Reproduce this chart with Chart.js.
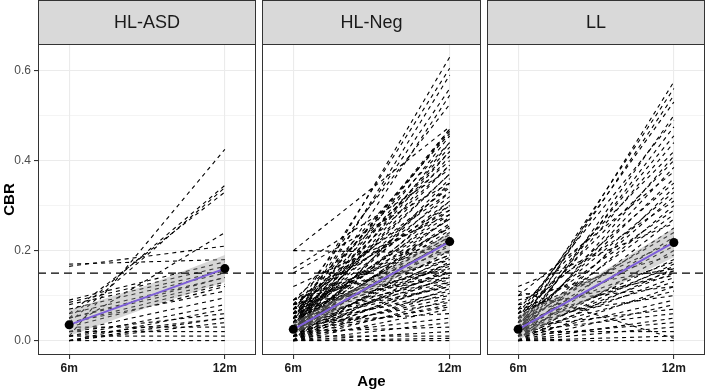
<!DOCTYPE html>
<html>
<head>
<meta charset="utf-8">
<script src="https://cdn.jsdelivr.net/npm/chart.js@4.4.1/dist/chart.umd.min.js"></script>
<style>
    body { margin: 0; background: #ffffff; }
    #wrap { position: relative; width: 705px; height: 391px; }
    #wrap canvas { position: absolute; top: 0; }
</style>
</head>
<body>
<div id="wrap">
    <canvas id="panel0" width="256" height="391" style="left:0px"></canvas>
    <canvas id="panel1" width="219" height="391" style="left:262px"></canvas>
    <canvas id="panel2" width="218" height="391" style="left:487px"></canvas>
</div>
<script>
const groups = ["HL-ASD", "HL-Neg", "LL"];
const ages = [6, 12];
const ageLabels = ["6m", "12m"];
const bandAges = [6, 9, 12];
const yTickValues = [0, 0.2, 0.4, 0.6];
const yTickLabels = ["0.0", "0.2", "0.4", "0.6"];
const yMinorValues = [0.1, 0.3, 0.5];
const cutoff = 0.15;

// individual trajectories, CBR at 6m and 12m
const hlAsd6m = [0.01, 0.05, 0.04, 0.06, 0.03, 0.165, 0.17, 0.09, 0.085, 0.08, 0.07, 0.06, 0.05, 0.04,
    0.03, 0.02, 0.01, 0.0, 0.02, 0.01, 0.0, 0.03, 0.02, 0.01, 0.0, 0.04, 0.0, 0.05];
const hlAsd12m = [0.425, 0.345, 0.34, 0.33, 0.24, 0.21, 0.18, 0.175, 0.165, 0.155, 0.15, 0.14, 0.13, 0.125,
    0.12, 0.095, 0.08, 0.07, 0.06, 0.05, 0.04, 0.03, 0.02, 0.01, 0.0, 0.11, 0.05, 0.14];

const hlNeg6m = [0.04, 0.06, 0.03, 0.05, 0.02, 0.08, 0.2, 0.03, 0.05, 0.07, 0.01, 0.04, 0.06, 0.02, 0.09,
    0.03, 0.16, 0.05, 0.0, 0.15, 0.04, 0.07, 0.02, 0.06, 0.01, 0.08, 0.03, 0.05, 0.0, 0.04,
    0.02, 0.06, 0.03, 0.01, 0.07, 0.05, 0.02, 0.04, 0.0, 0.03, 0.2, 0.01, 0.06, 0.02, 0.04,
    0.0, 0.03, 0.05, 0.01, 0.02, 0.04, 0.0, 0.03, 0.06, 0.01, 0.02, 0.05, 0.0, 0.03, 0.01,
    0.04, 0.02, 0.0, 0.03, 0.01, 0.02, 0.0, 0.04, 0.01, 0.0, 0.02, 0.0, 0.01, 0.0, 0.0,
    0.12, 0.09, 0.08, 0.05, 0.02, 0.07, 0.03, 0.06, 0.04, 0.01, 0.08, 0.05, 0.03, 0.09,
    0.06, 0.02, 0.07, 0.04, 0.08, 0.05, 0.09, 0.06, 0.07, 0.08, 0.05, 0.04];
const hlNeg12m = [0.63, 0.605, 0.59, 0.56, 0.545, 0.525, 0.475, 0.47, 0.465, 0.46, 0.44, 0.43, 0.42, 0.41, 0.4,
    0.39, 0.38, 0.37, 0.36, 0.35, 0.345, 0.34, 0.33, 0.32, 0.31, 0.3, 0.29, 0.28, 0.275, 0.27,
    0.26, 0.25, 0.245, 0.24, 0.235, 0.23, 0.225, 0.22, 0.215, 0.21, 0.195, 0.2, 0.19, 0.185, 0.18,
    0.175, 0.17, 0.165, 0.16, 0.155, 0.15, 0.145, 0.14, 0.135, 0.13, 0.125, 0.12, 0.115, 0.11, 0.105,
    0.1, 0.095, 0.09, 0.085, 0.08, 0.075, 0.07, 0.06, 0.05, 0.04, 0.03, 0.02, 0.01, 0.005, 0.0,
    0.28, 0.22, 0.16, 0.47, 0.455, 0.44, 0.42, 0.39, 0.37, 0.35, 0.33, 0.31, 0.3, 0.29,
    0.27, 0.255, 0.25, 0.23, 0.2, 0.19, 0.18, 0.17, 0.15, 0.14, 0.13, 0.12];

const ll6m = [0.02, 0.04, 0.03, 0.05, 0.01, 0.06, 0.02, 0.04, 0.03, 0.07, 0.01, 0.05, 0.02, 0.1, 0.03,
    0.06, 0.0, 0.04, 0.02, 0.08, 0.01, 0.05, 0.03, 0.0, 0.12, 0.02, 0.04, 0.01, 0.06, 0.03,
    0.0, 0.09, 0.02, 0.05, 0.01, 0.03, 0.0, 0.04, 0.02, 0.07, 0.01, 0.03, 0.0, 0.02, 0.05,
    0.01, 0.0, 0.03, 0.02, 0.0, 0.01, 0.0, 0.02, 0.0, 0.11, 0.0, 0.1, 0.08];
const ll12m = [0.575, 0.56, 0.545, 0.53, 0.5, 0.49, 0.475, 0.455, 0.44, 0.42, 0.41, 0.4, 0.385, 0.375, 0.36,
    0.35, 0.34, 0.33, 0.32, 0.31, 0.3, 0.29, 0.28, 0.27, 0.26, 0.25, 0.24, 0.23, 0.22, 0.21,
    0.2, 0.19, 0.18, 0.175, 0.17, 0.165, 0.16, 0.155, 0.15, 0.145, 0.14, 0.13, 0.12, 0.11, 0.1,
    0.09, 0.08, 0.07, 0.06, 0.05, 0.04, 0.03, 0.02, 0.01, 0.005, 0.0, 0.16, 0.12];

// group means (black points + fitted line) and confidence band at 6m, 9m, 12m
const mean6m = [0.035, 0.025, 0.025];
const mean12m = [0.16, 0.22, 0.218];
const bandLowAsd = [0.01, 0.073, 0.13];
const bandHighAsd = [0.068, 0.123, 0.19];
const bandLowNeg = [0.012, 0.11, 0.2];
const bandHighNeg = [0.04, 0.135, 0.24];
const bandLowLl = [0.0, 0.1, 0.185];
const bandHighLl = [0.055, 0.144, 0.25];

const subjects6m = [hlAsd6m, hlNeg6m, ll6m];
const subjects12m = [hlAsd12m, hlNeg12m, ll12m];
const bandLow = [bandLowAsd, bandLowNeg, bandLowLl];
const bandHigh = [bandHighAsd, bandHighNeg, bandHighLl];

const X_MIN = 4.8;
const X_MAX = 13.2;
const Y_MIN = -0.032;
const Y_MAX = 0.659;
const FONT = "'Liberation Sans', Arial, sans-serif";

const panelFrame = {
    id: "panelFrame",
    afterDraw(chart, args, opts) {
        const { ctx, chartArea: a } = chart;
        ctx.save();
        ctx.fillStyle = "#D9D9D9";
        ctx.fillRect(a.left, 0, a.right - a.left, a.top);
        ctx.strokeStyle = "#333333";
        ctx.lineWidth = 1;
        ctx.strokeRect(a.left + 0.5, 0.5, a.right - a.left - 1, a.top);
        ctx.strokeRect(a.left + 0.5, a.top + 0.5, a.right - a.left - 1, a.bottom - a.top - 1);
        ctx.fillStyle = "#1A1A1A";
        ctx.font = "18px " + FONT;
        ctx.textAlign = "center";
        ctx.textBaseline = "middle";
        ctx.fillText(opts.label, (a.left + a.right) / 2, a.top / 2 + 1);
        ctx.restore();
    },
};

const makePanel = (g) => {
    const datasets = [];
    const meanPts = ages.map((a, i) => ({ x: a, y: i === 0 ? mean6m[g] : mean12m[g] }));

    datasets.push({
        data: meanPts,
        showLine: false,
        pointRadius: 4.5,
        pointBackgroundColor: "#000000",
        pointBorderWidth: 0,
    });
    datasets.push({
        data: meanPts,
        borderColor: "#7E5FD9",
        borderWidth: 2,
        pointRadius: 0,
    });
    datasets.push({
        data: [{ x: X_MIN, y: cutoff }, { x: X_MAX, y: cutoff }],
        borderColor: "#000000",
        borderWidth: 1.2,
        borderDash: [8, 5],
        pointRadius: 0,
    });
    datasets.push({
        data: bandAges.map((a, i) => ({ x: a, y: bandHigh[g][i] })),
        borderColor: "transparent",
        backgroundColor: "rgba(153,153,153,0.4)",
        fill: "+1",
        pointRadius: 0,
    });
    datasets.push({
        data: bandAges.map((a, i) => ({ x: a, y: bandLow[g][i] })),
        borderColor: "transparent",
        pointRadius: 0,
    });
    subjects6m[g].forEach((v, i) => {
        datasets.push({
            data: [{ x: ages[0], y: v }, { x: ages[1], y: subjects12m[g][i] }],
            borderColor: "#000000",
            borderWidth: 1.1,
            borderDash: [4, 4],
            pointRadius: 0,
        });
    });

    const ctx = document.getElementById("panel" + g).getContext("2d");
    new Chart(ctx, {
        type: "line",
        data: { datasets: datasets },
        plugins: [panelFrame],
        options: {
            responsive: false,
            maintainAspectRatio: false,
            animation: false,
            layout: { autoPadding: false, padding: { top: 44, left: 0, right: 0, bottom: 0 } },
            elements: { line: { tension: 0, fill: false } },
            plugins: {
                legend: { display: false },
                tooltip: { enabled: false },
                panelFrame: { label: groups[g] },
            },
            scales: {
                x: {
                    type: "linear",
                    min: X_MIN,
                    max: X_MAX,
                    afterBuildTicks: (s) => {
                        s.ticks = ages.map((v) => ({ value: v }));
                    },
                    afterFit: (s) => {
                        s.height = 36;
                    },
                    border: { display: false },
                    grid: {
                        color: "#EBEBEB",
                        lineWidth: 1.1,
                        tickLength: 4,
                        tickColor: "#333333",
                    },
                    ticks: {
                        autoSkip: false,
                        maxRotation: 0,
                        padding: 2,
                        color: "#1A1A1A",
                        font: { family: FONT, size: 12, weight: "bold" },
                        callback: (v) => ageLabels[ages.indexOf(v)],
                    },
                    title: {
                        display: g === 1,
                        text: "Age",
                        color: "#000000",
                        padding: { top: 0, bottom: 0 },
                        font: { family: FONT, size: 15, weight: "bold" },
                    },
                },
                y: {
                    min: Y_MIN,
                    max: Y_MAX,
                    afterBuildTicks: (s) => {
                        s.ticks = yTickValues.concat(yMinorValues).map((v) => ({ value: v }));
                    },
                    afterFit: (s) => {
                        s.width = g === 0 ? 38 : 0;
                    },
                    border: { display: false },
                    grid: {
                        color: "#EBEBEB",
                        lineWidth: (c) => (yTickValues.includes(c.tick.value) ? 1.1 : 0.55),
                        drawTicks: g === 0,
                        tickLength: 4,
                        tickColor: (c) => (yTickValues.includes(c.tick.value) ? "#333333" : "transparent"),
                    },
                    ticks: {
                        display: g === 0,
                        padding: 3,
                        color: "#4D4D4D",
                        font: { family: FONT, size: 12 },
                        callback: (v) => {
                            const k = yTickValues.indexOf(v);
                            return k >= 0 ? yTickLabels[k] : "";
                        },
                    },
                    title: {
                        display: g === 0,
                        text: "CBR",
                        color: "#000000",
                        padding: { top: 1, bottom: 0 },
                        font: { family: FONT, size: 15, weight: "bold" },
                    },
                },
            },
        },
    });
};

groups.forEach((name, g) => makePanel(g));
</script>
</body>
</html>
